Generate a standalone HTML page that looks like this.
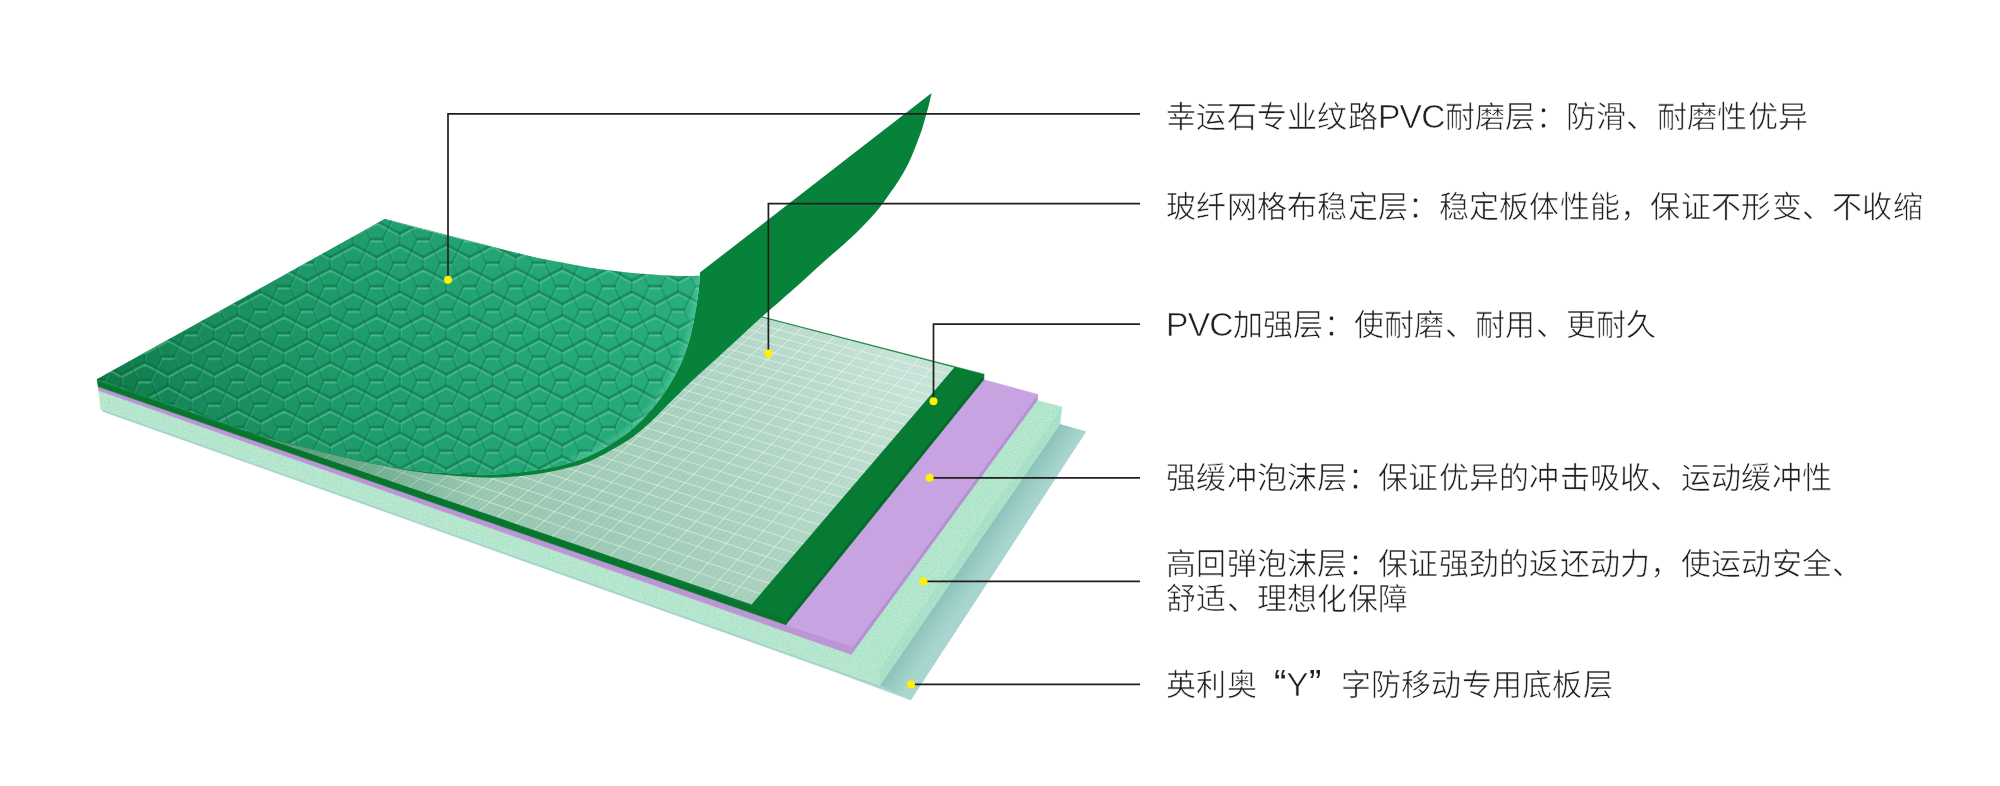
<!DOCTYPE html>
<html lang="zh-CN"><head><meta charset="utf-8"><title>PVC floor structure</title>
<style>
html,body{margin:0;padding:0;background:#fff}
body{width:2000px;height:786px;position:relative;overflow:hidden;font-family:"Liberation Sans",sans-serif}
svg{position:absolute;left:0;top:0}
.t{position:absolute;left:1166px;white-space:nowrap;font-size:30px;letter-spacing:.28px;line-height:34.5px;color:#231f20;font-weight:300;-webkit-text-stroke:.6px #fff;will-change:transform}
.l{font-size:33.5px;line-height:0;letter-spacing:-.7px;position:relative;top:1px}

.q1,.q2{display:inline-block;font-size:37px;line-height:0;letter-spacing:0;-webkit-text-stroke:0;position:relative;top:1px}
.q1{width:29.5px;text-align:right}
.q2{width:31.5px;text-align:left;margin-left:1px}
</style></head><body>
<svg width="2000" height="786" viewBox="0 0 2000 786">
<defs>
<linearGradient id="gTex" gradientUnits="userSpaceOnUse" x1="97" y1="380" x2="700" y2="330">
<stop offset="0" stop-color="#0e7745"/><stop offset=".15" stop-color="#17895a"/><stop offset=".4" stop-color="#1e9b6b"/><stop offset=".7" stop-color="#24a676"/><stop offset="1" stop-color="#29ae7e"/>
</linearGradient>
<linearGradient id="gTeal" gradientUnits="userSpaceOnUse" x1="970" y1="554" x2="990" y2="567.8">
<stop offset="0" stop-color="#8bc3ba"/><stop offset=".5" stop-color="#9bcdc5"/><stop offset="1" stop-color="#a8d5cf"/>
</linearGradient>
<filter id="fN" x="0" y="0" width="100%" height="100%"><feTurbulence type="fractalNoise" baseFrequency="0.85" numOctaves="2" seed="3" result="n"/>
<feColorMatrix in="n" type="matrix" values="0 0 0 0 0.25  0 0 0 0 0.62  0 0 0 0 0.45  0 0 0 -2.2 1.25"/><feComposite in2="SourceGraphic" operator="in"/></filter>
<filter id="fN2" x="0" y="0" width="100%" height="100%"><feTurbulence type="fractalNoise" baseFrequency="0.7" numOctaves="2" seed="11" result="n"/>
<feColorMatrix in="n" type="matrix" values="0 0 0 0 0.86  0 0 0 0 0.96  0 0 0 0 0.88  0 0 0 -2.4 1.3"/><feComposite in2="SourceGraphic" operator="in"/></filter>
<linearGradient id="gSh" gradientUnits="userSpaceOnUse" x1="285" y1="0" x2="480" y2="0">
<stop offset="0" stop-color="#0a6a3a" stop-opacity=".5"/><stop offset="1" stop-color="#0a6a3a" stop-opacity="0"/>
</linearGradient>
<linearGradient id="gMesh" gradientUnits="userSpaceOnUse" x1="520" y1="520" x2="900" y2="360">
<stop offset="0" stop-color="#98c7b0"/><stop offset=".5" stop-color="#a9d1be"/><stop offset="1" stop-color="#c4e2d5"/>
</linearGradient>
<filter id="fB2" x="-20%" y="-20%" width="140%" height="140%"><feGaussianBlur stdDeviation="2"/></filter>
<filter id="fB" x="-5%" y="-5%" width="110%" height="110%"><feGaussianBlur stdDeviation="0.7"/></filter>
<pattern id="pCairo" patternUnits="userSpaceOnUse" width="46.4" height="47.0" patternTransform="translate(28.7 4.5)"><g filter="url(#fB)" fill="none" stroke-linecap="round" stroke-linejoin="round"><path d="M0.0 5.5L-11.6 11.8M0.0 5.5L11.6 11.8M0.0 -5.5L-11.6 -11.8M0.0 -5.5L11.6 -11.8M23.2 29.0L11.6 35.2M23.2 29.0L34.8 35.2M23.2 18.0L11.6 11.8M23.2 18.0L34.8 11.8M46.4 5.5L34.8 11.8M46.4 5.5L58.0 11.8M46.4 -5.5L34.8 -11.8M46.4 -5.5L58.0 -11.8M0.0 52.5L-11.6 58.8M0.0 52.5L11.6 58.8M0.0 41.5L-11.6 35.2M0.0 41.5L11.6 35.2M46.4 52.5L34.8 58.8M46.4 52.5L58.0 58.8M46.4 41.5L34.8 35.2M46.4 41.5L58.0 35.2M17.3 0.0L29.1 0.0M-5.9 23.5L5.9 23.5M40.5 23.5L52.3 23.5M17.3 47.0L29.1 47.0" transform="translate(0.3 1.8)" stroke="#7be6ba" stroke-opacity=".42" stroke-width="2"/><path d="M0.0 -5.5L0.0 5.5M23.2 18.0L23.2 29.0M46.4 -5.5L46.4 5.5M0.0 41.5L0.0 52.5M46.4 41.5L46.4 52.5M17.3 0.0L11.6 -11.8M17.3 0.0L11.6 11.8M29.1 0.0L34.8 -11.8M29.1 0.0L34.8 11.8M-5.9 23.5L-11.6 11.8M-5.9 23.5L-11.6 35.2M5.9 23.5L11.6 11.8M5.9 23.5L11.6 35.2M40.5 23.5L34.8 11.8M40.5 23.5L34.8 35.2M52.3 23.5L58.0 11.8M52.3 23.5L58.0 35.2M17.3 47.0L11.6 35.2M17.3 47.0L11.6 58.8M29.1 47.0L34.8 35.2M29.1 47.0L34.8 58.8" transform="translate(1.2 0.6)" stroke="#7be6ba" stroke-opacity=".2" stroke-width="1.4"/><path d="M0.0 -5.5L0.0 5.5M23.2 18.0L23.2 29.0M46.4 -5.5L46.4 5.5M0.0 41.5L0.0 52.5M46.4 41.5L46.4 52.5M17.3 0.0L11.6 -11.8M17.3 0.0L11.6 11.8M29.1 0.0L34.8 -11.8M29.1 0.0L34.8 11.8M-5.9 23.5L-11.6 11.8M-5.9 23.5L-11.6 35.2M5.9 23.5L11.6 11.8M5.9 23.5L11.6 35.2M40.5 23.5L34.8 11.8M40.5 23.5L34.8 35.2M52.3 23.5L58.0 11.8M52.3 23.5L58.0 35.2M17.3 47.0L11.6 35.2M17.3 47.0L11.6 58.8M29.1 47.0L34.8 35.2M29.1 47.0L34.8 58.8" transform="translate(-0.1 -0.1)" stroke="#075c36" stroke-opacity=".27" stroke-width="2.1"/><path d="M0.0 5.5L-11.6 11.8M0.0 5.5L11.6 11.8M0.0 -5.5L-11.6 -11.8M0.0 -5.5L11.6 -11.8M23.2 29.0L11.6 35.2M23.2 29.0L34.8 35.2M23.2 18.0L11.6 11.8M23.2 18.0L34.8 11.8M46.4 5.5L34.8 11.8M46.4 5.5L58.0 11.8M46.4 -5.5L34.8 -11.8M46.4 -5.5L58.0 -11.8M0.0 52.5L-11.6 58.8M0.0 52.5L11.6 58.8M0.0 41.5L-11.6 35.2M0.0 41.5L11.6 35.2M46.4 52.5L34.8 58.8M46.4 52.5L58.0 58.8M46.4 41.5L34.8 35.2M46.4 41.5L58.0 35.2M17.3 0.0L29.1 0.0M-5.9 23.5L5.9 23.5M40.5 23.5L52.3 23.5M17.3 47.0L29.1 47.0" transform="translate(-0.1 -0.3)" stroke="#075c36" stroke-opacity=".41" stroke-width="2.7"/></g></pattern>
</defs>
<polygon points="103.0,411.4 830.0,669.9 911.0,700.1 879.7,685.2 100.6,408.5" fill="#a6d4cd" stroke="#a6d4cd" stroke-width=".6"/>
<polygon points="879.7,685.2 911.0,700.1 1086.3,431.5 1059.8,424.1" fill="url(#gTeal)"/>
<polygon points="98.7,390.6 851.2,654.4 880.1,667.4 879.7,685.2 100.6,408.5" fill="#b7e8cf" stroke="#b7e8cf" stroke-width=".6"/><polygon points="880.1,667.4 1061.8,406.6 1059.8,424.1 879.7,685.2" fill="#a8e2c8" stroke="#a8e2c8" stroke-width=".6"/><polygon points="851.2,654.4 880.1,667.4 1061.8,406.6 1037.4,400.2 1037.4,400.0" fill="#b3e8cd"/>
<g filter="url(#fN)" opacity=".55"><polygon points="98.7,390.6 851.2,654.4 880.1,667.4 879.7,685.2 100.6,408.5" fill="#b7e8cf" stroke="#b7e8cf" stroke-width=".6"/><polygon points="880.1,667.4 1061.8,406.6 1059.8,424.1 879.7,685.2" fill="#a8e2c8" stroke="#a8e2c8" stroke-width=".6"/><polygon points="851.2,654.4 880.1,667.4 1061.8,406.6 1037.4,400.2 1037.4,400.0" fill="#b3e8cd"/></g>
<g filter="url(#fN2)" opacity=".3"><polygon points="98.7,390.6 851.2,654.4 880.1,667.4 879.7,685.2 100.6,408.5" fill="#b7e8cf" stroke="#b7e8cf" stroke-width=".6"/><polygon points="880.1,667.4 1061.8,406.6 1059.8,424.1 879.7,685.2" fill="#a8e2c8" stroke="#a8e2c8" stroke-width=".6"/><polygon points="851.2,654.4 880.1,667.4 1061.8,406.6 1037.4,400.2 1037.4,400.0" fill="#b3e8cd"/></g>
<polygon points="98.1,386.6 785.8,624.7 852.9,646.6 851.2,654.4 98.7,390.6" fill="#bb95d4" stroke="#bb95d4" stroke-width=".6"/>
<polygon points="852.9,646.6 1037.7,394.4 1037.4,400.0 851.2,654.4" fill="#b590d0" stroke="#b590d0" stroke-width=".6"/>
<polygon points="785.8,624.7 852.9,646.6 1037.7,394.4 983.8,379.8 400.0,230.0" fill="#c8a3e1" stroke="#c8a3e1" stroke-width=".6"/>
<polygon points="97.2,379.1 786.7,618.4 785.8,624.7 98.1,386.6" fill="#08752f" stroke="#08752f" stroke-width=".6"/>
<polygon points="786.7,618.4 984.0,374.2 983.8,379.6 785.8,624.7" fill="#056b2b" stroke="#056b2b" stroke-width=".6"/>
<polygon points="97.6,381.0 786.7,618.4 984.0,374.2 384.9,219.3" fill="#077a33" stroke="#077a33" stroke-width=".6"/>
<polygon points="98.0,381.0 751.6,604.4 954.3,367.4 384.9,219.3" fill="url(#gMesh)"/>
<path d="M101.5 382.2L388.1 220.1M105.0 383.4L391.3 221.0M108.6 384.6L394.5 221.8M115.6 387.0L400.9 223.5M119.2 388.2L404.1 224.3M122.8 389.5L407.3 225.1M129.9 391.9L413.8 226.8M133.5 393.1L417.0 227.6M137.1 394.4L420.2 228.5M144.3 396.8L426.7 230.2M148.0 398.1L430.0 231.0M151.6 399.3L433.3 231.9M158.9 401.8L439.8 233.6M162.5 403.1L443.1 234.4M166.2 404.3L446.4 235.3M173.6 406.8L453.0 237.0M177.3 408.1L456.4 237.9M181.0 409.4L459.7 238.8M188.4 411.9L466.4 240.5M192.2 413.2L469.7 241.4M195.9 414.5L473.1 242.2M203.4 417.0L479.8 244.0M207.2 418.3L483.2 244.9M211.0 419.6L486.5 245.7M218.6 422.2L493.3 247.5M222.4 423.5L496.7 248.4M226.2 424.8L500.1 249.3M233.9 427.4L507.0 251.0M237.7 428.8L510.4 251.9M241.6 430.1L513.8 252.8M249.3 432.7L520.7 254.6M253.2 434.1L524.2 255.5M257.1 435.4L527.6 256.4M264.9 438.1L534.6 258.2M268.9 439.4L538.1 259.1M272.8 440.8L541.6 260.1M280.7 443.5L548.6 261.9M284.7 444.8L552.1 262.8M288.7 446.2L555.6 263.7M296.7 448.9L562.7 265.5M300.7 450.3L566.2 266.5M304.7 451.6L569.8 267.4M312.8 454.4L576.9 269.2M316.8 455.8L580.5 270.2M320.9 457.2L584.1 271.1M329.0 460.0L591.3 273.0M333.1 461.4L594.9 273.9M337.2 462.8L598.5 274.9M345.5 465.6L605.8 276.7M349.6 467.0L609.4 277.7M353.8 468.4L613.0 278.6M362.1 471.3L620.4 280.5M366.3 472.7L624.0 281.5M370.5 474.1L627.7 282.5M378.9 477.0L635.1 284.4M383.1 478.5L638.8 285.3M387.4 479.9L642.5 286.3M395.9 482.8L649.9 288.2M400.2 484.3L653.7 289.2M404.4 485.7L657.4 290.2M413.0 488.7L664.9 292.1M417.4 490.2L668.7 293.1M421.7 491.6L672.4 294.1M430.4 494.6L680.0 296.1M434.8 496.1L683.8 297.0M439.1 497.6L687.6 298.0M447.9 500.6L695.3 300.0M452.3 502.1L699.1 301.0M456.8 503.6L702.9 302.0M465.7 506.7L710.6 304.0M470.1 508.2L714.5 305.0M474.6 509.7L718.4 306.0M483.6 512.8L726.2 308.1M488.1 514.3L730.1 309.1M492.6 515.9L734.0 310.1M501.7 519.0L741.8 312.1M506.3 520.5L745.7 313.2M510.8 522.1L749.7 314.2M520.0 525.2L757.6 316.2M524.6 526.8L761.6 317.3M529.3 528.4L765.5 318.3M538.5 531.6L773.5 320.4M543.2 533.2L777.5 321.4M547.9 534.8L781.6 322.5M557.3 538.0L789.6 324.6M562.0 539.6L793.6 325.6M566.7 541.2L797.7 326.7M576.2 544.5L805.8 328.8M581.0 546.1L809.9 329.8M585.8 547.7L814.0 330.9M595.4 551.0L822.2 333.0M600.2 552.7L826.3 334.1M605.0 554.3L830.4 335.2M614.8 557.6L838.7 337.3M619.6 559.3L842.9 338.4M624.5 561.0L847.0 339.5M634.4 564.3L855.4 341.7M639.3 566.0L859.6 342.8M644.2 567.7L863.8 343.9M654.2 571.1L872.2 346.1M659.2 572.8L876.4 347.2M664.2 574.5L880.7 348.3M674.3 578.0L889.2 350.5M679.3 579.7L893.5 351.6M684.4 581.4L897.7 352.7M694.5 584.9L906.3 354.9M699.7 586.6L910.6 356.0M704.8 588.4L915.0 357.2M715.1 591.9L923.6 359.4M720.2 593.7L928.0 360.6M725.4 595.5L932.3 361.7M735.9 599.0L941.1 364.0M741.1 600.8L945.5 365.1M746.3 602.6L949.9 366.3" stroke="#fff" stroke-opacity=".16" stroke-width=".9" fill="none"/>
<path d="M112.1 385.8L397.7 222.6M126.3 390.7L410.5 226.0M140.7 395.6L423.5 229.3M155.2 400.6L436.6 232.7M169.9 405.6L449.7 236.2M184.7 410.6L463.0 239.6M199.7 415.7L476.4 243.1M214.8 420.9L489.9 246.6M230.0 426.1L503.5 250.2M245.4 431.4L517.3 253.7M261.0 436.7L531.1 257.3M276.8 442.1L545.1 261.0M292.7 447.5L559.2 264.6M308.7 453.0L573.4 268.3M325.0 458.6L587.7 272.0M341.4 464.2L602.1 275.8M357.9 469.8L616.7 279.6M374.7 475.6L631.4 283.4M391.6 481.4L646.2 287.3M408.7 487.2L661.1 291.2M426.0 493.1L676.2 295.1M443.5 499.1L691.4 299.0M461.2 505.1L706.8 303.0M479.1 511.3L722.3 307.0M497.1 517.4L737.9 311.1M515.4 523.7L753.6 315.2M533.9 530.0L769.5 319.3M552.6 536.4L785.6 323.5M571.5 542.8L801.8 327.7M590.6 549.4L818.1 332.0M609.9 556.0L834.6 336.3M629.4 562.6L851.2 340.6M649.2 569.4L868.0 345.0M669.2 576.2L884.9 349.4M689.4 583.2L902.0 353.8M709.9 590.2L919.3 358.3M730.6 597.2L936.7 362.8" stroke="#fff" stroke-opacity=".38" stroke-width="1.2" fill="none"/>
<path d="M110.3 374.0L760.6 593.8M122.5 367.2L769.5 583.4M134.5 360.4L778.3 573.2M146.3 353.8L786.8 563.2M157.9 347.2L795.2 553.4M169.3 340.8L803.5 543.7M180.6 334.4L811.6 534.2M191.8 328.2L819.6 524.9M202.7 322.0L827.4 515.7M213.5 315.9L835.1 506.7M224.2 309.9L842.7 497.9M234.7 304.0L850.2 489.2M245.1 298.1L857.5 480.6M255.3 292.4L864.7 472.2M265.4 286.7L871.8 463.9M275.3 281.1L878.7 455.8M285.1 275.5L885.6 447.7M294.8 270.1L892.3 439.9M304.4 264.7L899.0 432.1M313.8 259.4L905.5 424.4M323.1 254.1L911.9 416.9M332.3 249.0L918.3 409.5M341.3 243.9L924.5 402.2M350.3 238.8L930.6 395.1M359.1 233.9L936.7 388.0M367.8 228.9L942.7 381.0M376.4 224.1L948.5 374.2" stroke="#fff" stroke-opacity=".38" stroke-width="1.2" fill="none"/>
<polygon points="250.0,433.0 520.0,525.2 520.0,430.0 250.0,410.0" fill="url(#gSh)"/>
<path d="M699.9 275.8L699.9 272.6L931.6 93.0C931.1 95.1 929.8 101.3 928.8 105.2C927.8 109.1 926.7 112.6 925.6 116.6C924.5 120.6 923.4 125.0 922.0 129.2C920.6 133.4 919.0 137.6 917.4 141.8C915.8 146.0 914.3 150.0 912.4 154.4C910.5 158.8 908.2 163.8 905.9 168.2C903.6 172.6 901.3 176.6 898.6 180.8C895.9 185.0 893.6 188.2 889.9 193.3C886.2 198.5 881.9 205.0 876.2 211.7C870.5 218.4 864.0 225.3 855.6 233.4C847.2 241.5 836.3 250.6 825.8 260.0C815.3 269.4 803.3 280.5 792.6 290.0C781.9 299.5 769.7 309.9 761.5 317.2C753.3 324.5 749.3 328.4 743.2 334.0C737.1 339.6 731.0 345.2 724.9 350.8C718.8 356.4 712.7 362.0 706.6 367.6C700.5 373.2 693.3 379.6 688.2 384.4C683.1 389.2 680.1 392.5 676.0 396.6C671.9 400.7 667.9 404.7 663.8 408.8C659.7 412.9 655.7 417.2 651.6 421.0C647.5 424.8 643.5 428.4 639.4 431.7C635.3 435.0 632.3 437.5 627.2 440.8C622.1 444.1 615.0 448.2 608.9 451.5C602.8 454.8 596.6 458.1 590.5 460.7C584.4 463.2 580.0 464.8 572.2 466.8C564.4 468.9 554.1 471.3 543.7 473.0C533.3 474.7 520.2 476.1 510.0 476.8C499.8 477.6 495.6 478.0 482.7 477.5C469.8 477.0 447.4 475.4 432.7 473.8C418.0 472.2 407.2 470.3 394.5 468.0C381.8 465.7 369.0 463.0 356.3 460.2C343.6 457.4 330.9 454.1 318.2 451.0C305.5 447.9 292.6 444.9 280.0 441.6C267.4 438.3 253.8 434.6 242.7 431.3C231.6 428.0 228.0 426.5 213.6 421.6C199.2 416.7 170.5 406.8 156.3 401.9C142.1 397.0 138.0 395.5 128.2 392.1C118.4 388.7 102.7 383.4 97.6 381.6L97.4 379.4C102.5 381.2 118.4 386.6 128.2 390.0C138.0 393.4 142.1 394.8 156.3 399.7C170.5 404.6 199.2 414.6 213.6 419.5C228.0 424.4 231.6 425.9 242.7 429.4C253.8 432.9 267.4 436.9 280.0 440.4C292.6 443.9 305.5 447.3 318.2 450.5C330.9 453.7 343.6 456.6 356.3 459.4C369.0 462.1 381.8 464.9 394.5 467.0C407.2 469.1 418.0 470.9 432.7 472.2C447.4 473.4 469.8 474.3 482.7 474.5C495.6 474.7 499.8 474.1 510.0 473.2C520.2 472.3 533.3 470.8 543.7 469.0C554.1 467.2 564.4 464.5 572.2 462.2C580.0 459.9 584.4 458.0 590.5 455.2C596.6 452.4 602.8 449.1 608.9 445.4C615.0 441.7 621.6 437.5 627.2 433.2C632.8 428.9 637.8 424.1 642.4 419.5C647.0 414.9 650.6 410.8 654.7 405.7C658.8 400.6 663.4 394.2 666.9 388.9C670.4 383.6 673.2 379.0 676.0 373.7C678.8 368.4 681.4 362.8 683.7 356.9C686.0 351.0 688.0 345.1 689.8 338.5C691.6 331.9 693.0 324.3 694.4 317.2C695.8 310.1 697.1 302.7 698.0 295.8C698.9 288.9 699.6 279.1 699.9 275.8Z" fill="#07823a"/>
<path d="M97.2 379.1L384.9 218.9C389.7 220.3 403.1 224.3 413.8 227.2C424.5 230.1 437.1 233.2 448.8 236.2C460.5 239.2 472.1 242.1 483.8 245.0C495.5 247.9 507.1 250.9 518.8 253.6C530.5 256.3 542.1 258.8 553.8 261.1C565.5 263.4 577.1 265.6 588.8 267.4C600.5 269.2 612.1 270.9 623.8 272.1C635.5 273.4 648.6 274.2 658.8 274.9C669.0 275.5 678.1 275.9 685.0 276.0C691.9 276.1 697.4 275.8 699.9 275.8L699.9 275.8C699.6 279.1 698.9 288.9 698.0 295.8C697.1 302.7 695.8 310.1 694.4 317.2C693.0 324.3 691.6 331.9 689.8 338.5C688.0 345.1 686.0 351.0 683.7 356.9C681.4 362.8 678.8 368.4 676.0 373.7C673.2 379.0 670.4 383.6 666.9 388.9C663.4 394.2 658.8 400.6 654.7 405.7C650.6 410.8 647.0 414.9 642.4 419.5C637.8 424.1 632.8 428.9 627.2 433.2C621.6 437.5 615.0 441.7 608.9 445.4C602.8 449.1 596.6 452.4 590.5 455.2C584.4 458.0 580.0 459.9 572.2 462.2C564.4 464.5 554.1 467.2 543.7 469.0C533.3 470.8 520.2 472.3 510.0 473.2C499.8 474.1 495.6 474.7 482.7 474.5C469.8 474.3 447.4 473.4 432.7 472.2C418.0 470.9 407.2 469.1 394.5 467.0C381.8 464.9 369.0 462.1 356.3 459.4C343.6 456.6 330.9 453.7 318.2 450.5C305.5 447.3 292.6 443.9 280.0 440.4C267.4 436.9 253.8 432.9 242.7 429.4C231.6 425.9 228.0 424.4 213.6 419.5C199.2 414.6 170.5 404.6 156.3 399.7C142.1 394.8 138.0 393.4 128.2 390.0C118.4 386.6 102.5 381.2 97.4 379.4Z" fill="url(#gTex)"/>
<path d="M97.2 379.1L384.9 218.9C389.7 220.3 403.1 224.3 413.8 227.2C424.5 230.1 437.1 233.2 448.8 236.2C460.5 239.2 472.1 242.1 483.8 245.0C495.5 247.9 507.1 250.9 518.8 253.6C530.5 256.3 542.1 258.8 553.8 261.1C565.5 263.4 577.1 265.6 588.8 267.4C600.5 269.2 612.1 270.9 623.8 272.1C635.5 273.4 648.6 274.2 658.8 274.9C669.0 275.5 678.1 275.9 685.0 276.0C691.9 276.1 697.4 275.8 699.9 275.8L699.9 275.8C699.6 279.1 698.9 288.9 698.0 295.8C697.1 302.7 695.8 310.1 694.4 317.2C693.0 324.3 691.6 331.9 689.8 338.5C688.0 345.1 686.0 351.0 683.7 356.9C681.4 362.8 678.8 368.4 676.0 373.7C673.2 379.0 670.4 383.6 666.9 388.9C663.4 394.2 658.8 400.6 654.7 405.7C650.6 410.8 647.0 414.9 642.4 419.5C637.8 424.1 632.8 428.9 627.2 433.2C621.6 437.5 615.0 441.7 608.9 445.4C602.8 449.1 596.6 452.4 590.5 455.2C584.4 458.0 580.0 459.9 572.2 462.2C564.4 464.5 554.1 467.2 543.7 469.0C533.3 470.8 520.2 472.3 510.0 473.2C499.8 474.1 495.6 474.7 482.7 474.5C469.8 474.3 447.4 473.4 432.7 472.2C418.0 470.9 407.2 469.1 394.5 467.0C381.8 464.9 369.0 462.1 356.3 459.4C343.6 456.6 330.9 453.7 318.2 450.5C305.5 447.3 292.6 443.9 280.0 440.4C267.4 436.9 253.8 432.9 242.7 429.4C231.6 425.9 228.0 424.4 213.6 419.5C199.2 414.6 170.5 404.6 156.3 399.7C142.1 394.8 138.0 393.4 128.2 390.0C118.4 386.6 102.5 381.2 97.4 379.4Z" fill="url(#pCairo)"/>
<clipPath id="cF"><path d="M97.2 379.1L384.9 218.9C389.7 220.3 403.1 224.3 413.8 227.2C424.5 230.1 437.1 233.2 448.8 236.2C460.5 239.2 472.1 242.1 483.8 245.0C495.5 247.9 507.1 250.9 518.8 253.6C530.5 256.3 542.1 258.8 553.8 261.1C565.5 263.4 577.1 265.6 588.8 267.4C600.5 269.2 612.1 270.9 623.8 272.1C635.5 273.4 648.6 274.2 658.8 274.9C669.0 275.5 678.1 275.9 685.0 276.0C691.9 276.1 697.4 275.8 699.9 275.8L699.9 275.8C699.6 279.1 698.9 288.9 698.0 295.8C697.1 302.7 695.8 310.1 694.4 317.2C693.0 324.3 691.6 331.9 689.8 338.5C688.0 345.1 686.0 351.0 683.7 356.9C681.4 362.8 678.8 368.4 676.0 373.7C673.2 379.0 670.4 383.6 666.9 388.9C663.4 394.2 658.8 400.6 654.7 405.7C650.6 410.8 647.0 414.9 642.4 419.5C637.8 424.1 632.8 428.9 627.2 433.2C621.6 437.5 615.0 441.7 608.9 445.4C602.8 449.1 596.6 452.4 590.5 455.2C584.4 458.0 580.0 459.9 572.2 462.2C564.4 464.5 554.1 467.2 543.7 469.0C533.3 470.8 520.2 472.3 510.0 473.2C499.8 474.1 495.6 474.7 482.7 474.5C469.8 474.3 447.4 473.4 432.7 472.2C418.0 470.9 407.2 469.1 394.5 467.0C381.8 464.9 369.0 462.1 356.3 459.4C343.6 456.6 330.9 453.7 318.2 450.5C305.5 447.3 292.6 443.9 280.0 440.4C267.4 436.9 253.8 432.9 242.7 429.4C231.6 425.9 228.0 424.4 213.6 419.5C199.2 414.6 170.5 404.6 156.3 399.7C142.1 394.8 138.0 393.4 128.2 390.0C118.4 386.6 102.5 381.2 97.4 379.4Z"/></clipPath>
<path d="M699.9 275.8C699.6 279.1 698.9 288.9 698.0 295.8C697.1 302.7 695.8 310.1 694.4 317.2C693.0 324.3 691.6 331.9 689.8 338.5C688.0 345.1 686.0 351.0 683.7 356.9C681.4 362.8 678.8 368.4 676.0 373.7C673.2 379.0 670.4 383.6 666.9 388.9C663.4 394.2 658.8 400.6 654.7 405.7C650.6 410.8 647.0 414.9 642.4 419.5C637.8 424.1 632.8 428.9 627.2 433.2C621.6 437.5 615.0 441.7 608.9 445.4C602.8 449.1 596.6 452.4 590.5 455.2C584.4 458.0 575.2 461.0 572.2 462.2" clip-path="url(#cF)" fill="none" stroke="#7fe3b8" stroke-opacity=".3" stroke-width="9" filter="url(#fB2)"/>
<polyline points="448.0,279.0 448.0,113.8 1140.0,113.8" fill="none" stroke="#231f20" stroke-width="1.7"/>
<circle cx="448" cy="279.75" r="4" fill="#fff100"/>
<polyline points="768.4,353.0 768.4,203.7 1140.0,203.7" fill="none" stroke="#231f20" stroke-width="1.7"/>
<circle cx="768.3" cy="353.5" r="4" fill="#fff100"/>
<polyline points="933.5,401.0 933.5,324.2 1140.0,324.2" fill="none" stroke="#231f20" stroke-width="1.7"/>
<circle cx="933.5" cy="401.3" r="4" fill="#fff100"/>
<polyline points="929.6,477.8 1140.0,477.8" fill="none" stroke="#231f20" stroke-width="1.7"/>
<circle cx="929.6" cy="477.8" r="4" fill="#fff100"/>
<polyline points="923.4,581.3 1140.0,581.3" fill="none" stroke="#231f20" stroke-width="1.7"/>
<circle cx="923.4" cy="581.3" r="4" fill="#fff100"/>
<polyline points="911.0,684.4 1140.0,684.4" fill="none" stroke="#231f20" stroke-width="1.7"/>
<circle cx="911" cy="684.4" r="4" fill="#fff100"/>
</svg>
<div class="t" style="top:99.8px">幸运石专业纹路<span class="l">PVC</span>耐磨层：防滑、耐磨性优异</div>
<div class="t" style="top:189.8px">玻纤网格布稳定层：稳定板体性能，保证不形变、不收缩</div>
<div class="t" style="top:308.1px"><span class="l">PVC</span>加强层：使耐磨、耐用、更耐久</div>
<div class="t" style="top:461.2px">强缓冲泡沫层：保证优异的冲击吸收、运动缓冲性</div>
<div class="t" style="top:547.4px">高回弹泡沫层：保证强劲的返还动力，使运动安全、<br>舒适、理想化保障</div>
<div class="t" style="top:668.1px">英利奥<span class="q1">“</span><span class="l">Y</span><span class="q2">”</span>字防移动专用底板层</div>
</body></html>
